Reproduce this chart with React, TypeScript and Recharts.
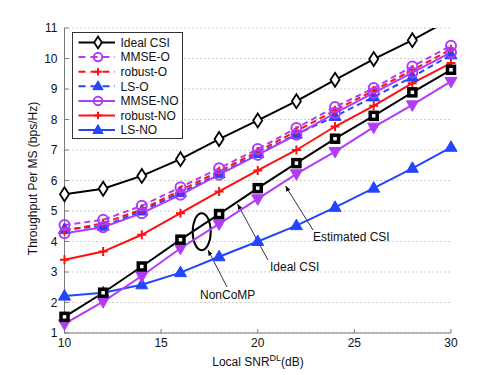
import {
  CartesianGrid,
  Customized,
  Legend,
  Line,
  LineChart,
  XAxis,
  YAxis,
} from "recharts";

const SNR = [10, 12, 14, 16, 18, 20, 22, 24, 26, 28, 30];
const IDEAL_CSI = [5.55, 5.73, 6.15, 6.7, 7.36, 7.97, 8.6, 9.3, 9.98, 10.6, 11.3];
const MMSE_O = [4.54, 4.71, 5.17, 5.78, 6.4, 7.03, 7.72, 8.41, 9.03, 9.74, 10.42];
const ROBUST_O = [4.35, 4.6, 5.05, 5.68, 6.3, 6.95, 7.62, 8.3, 8.95, 9.62, 10.3];
const LS_O = [4.4, 4.5, 5.0, 5.6, 6.22, 6.88, 7.52, 8.1, 8.74, 9.39, 10.12];
const MMSE_NO = [4.27, 4.47, 4.93, 5.53, 6.19, 6.84, 7.5, 8.21, 8.87, 9.54, 10.2];
const ROBUST_NO = [3.4, 3.67, 4.22, 4.93, 5.64, 6.33, 7.0, 7.77, 8.45, 9.19, 9.85];
const LS_NO = [2.21, 2.32, 2.58, 2.98, 3.5, 4.0, 4.52, 5.12, 5.75, 6.4, 7.09];
const NONCOMP_IDEAL = [1.53, 2.32, 3.18, 4.06, 4.9, 5.75, 6.57, 7.37, 8.12, 8.89, 9.63];
const NONCOMP_EST = [1.3, 2.03, 2.87, 3.78, 4.58, 5.4, 6.22, 6.95, 7.75, 8.48, 9.25];

const X_TICKS = [10, 15, 20, 25, 30];
const Y_TICKS = [1, 2, 3, 4, 5, 6, 7, 8, 9, 10, 11];

const PURPLE = "#b23cf5";
const RED = "#ff1010";
const BLUE = "#2246ff";
const AXIS = "#7a7a7a";
const FONT = "'Liberation Sans', Arial, sans-serif";

type Shape = "diamond" | "circle" | "plus" | "triUp" | "triDown" | "square";

type SeriesDef = {
  key: string;
  name: string;
  color: string;
  dash?: string;
  shape: Shape;
};

const SERIES: SeriesDef[] = [
  { key: "lsNO", name: "LS-NO", color: BLUE, shape: "triUp" },
  { key: "robustNO", name: "robust-NO", color: RED, shape: "plus" },
  { key: "lsO", name: "LS-O", color: BLUE, dash: "6 4", shape: "triUp" },
  { key: "robustO", name: "robust-O", color: RED, dash: "6 4", shape: "plus" },
  { key: "mmseNO", name: "MMSE-NO", color: PURPLE, shape: "circle" },
  { key: "mmseO", name: "MMSE-O", color: PURPLE, dash: "6 4", shape: "circle" },
  { key: "estNC", name: "Estimated CSI NonCoMP", color: PURPLE, shape: "triDown" },
  { key: "idealNC", name: "Ideal CSI NonCoMP", color: "#000", shape: "square" },
  { key: "ideal", name: "Ideal CSI", color: "#000", shape: "diamond" },
];

const LEGEND_ORDER = ["ideal", "mmseO", "robustO", "lsO", "mmseNO", "robustNO", "lsNO"];

const data = SNR.map((snr, i) => ({
  snr,
  ideal: IDEAL_CSI[i],
  mmseO: MMSE_O[i],
  robustO: ROBUST_O[i],
  lsO: LS_O[i],
  mmseNO: MMSE_NO[i],
  robustNO: ROBUST_NO[i],
  lsNO: LS_NO[i],
  idealNC: NONCOMP_IDEAL[i],
  estNC: NONCOMP_EST[i],
}));

function Marker({ shape, cx, cy, color, k = 1 }: { shape: Shape; cx: number; cy: number; color: string; k?: number }) {
  switch (shape) {
    case "diamond":
      return (
        <path
          d={`M${cx},${cy - 7 * k}L${cx + 4.5 * k},${cy}L${cx},${cy + 7 * k}L${cx - 4.5 * k},${cy}Z`}
          fill="#fff"
          stroke={color}
          strokeWidth={1.8}
        />
      );
    case "circle":
      return <circle cx={cx} cy={cy} r={5 * k} fill="none" stroke={color} strokeWidth={2} />;
    case "plus":
      return (
        <path
          d={`M${cx - 4.5 * k},${cy}H${cx + 4.5 * k}M${cx},${cy - 4.5 * k}V${cy + 4.5 * k}`}
          stroke={color}
          strokeWidth={2}
        />
      );
    case "triUp":
      return (
        <path
          d={`M${cx},${cy - 6.5 * k}L${cx + 6 * k},${cy + 4 * k}L${cx - 6 * k},${cy + 4 * k}Z`}
          fill={color}
          stroke={color}
          strokeWidth={1}
        />
      );
    case "triDown":
      return (
        <path
          d={`M${cx},${cy + 6.5 * k}L${cx + 6 * k},${cy - 4 * k}L${cx - 6 * k},${cy - 4 * k}Z`}
          fill={color}
          stroke={color}
          strokeWidth={1}
        />
      );
    case "square":
      return (
        <rect x={cx - 3.5} y={cy - 3.5} width={7} height={7} fill="#fff" stroke={color} strokeWidth={3.5} />
      );
  }
}

const makeDot = (s: SeriesDef) => (props: any) => {
  const { cx, cy, index } = props;
  if (cx == null || cy == null) return <g key={index} />;
  return (
    <g key={index}>
      <Marker shape={s.shape} cx={cx} cy={cy} color={s.color} />
    </g>
  );
};

function LegendBox() {
  const rows = LEGEND_ORDER.map((k) => SERIES.find((s) => s.key === k)!);
  return (
    <svg width={111} height={107} style={{ display: "block" }}>
      <rect x={0.5} y={0.5} width={110} height={106} fill="#fff" stroke="#333" strokeWidth={1} />
      {rows.map((s, i) => {
        const y = 10.5 + i * 14.6;
        return (
          <g key={s.key}>
            <line x1={6.5} x2={43} y1={y} y2={y} stroke={s.color} strokeWidth={2} strokeDasharray={s.dash ? "7 5" : undefined} />
            <Marker shape={s.shape} cx={26} cy={y} color={s.color} k={0.85} />
            <text x={48.5} y={y + 4.3} fontSize={12} fontFamily={FONT} fill="#111">
              {s.name}
            </text>
          </g>
        );
      })}
    </svg>
  );
}

function Annotations() {
  return (
    <g fontFamily={FONT} fontSize={12} fill="#111">
      <defs>
        <marker id="arr" viewBox="0 0 10 10" refX="10" refY="5" markerWidth="7" markerHeight="7" orient="auto">
          <path d="M0,1L10,5L0,9Z" fill="#000" />
        </marker>
      </defs>
      <ellipse cx={201.7} cy={231.7} rx={9} ry={18.5} fill="none" stroke="#000" strokeWidth={2} />
      <line x1={227} y1={287} x2={208} y2={250} stroke="#000" strokeWidth={0.8} markerEnd="url(#arr)" />
      <text x={200} y={299}>NonCoMP</text>
      <line x1={268} y1={260} x2={237.5} y2={204} stroke="#000" strokeWidth={0.8} markerEnd="url(#arr)" />
      <text x={270} y={271}>Ideal CSI</text>
      <line x1={313} y1={230} x2={285.5} y2={186} stroke="#000" strokeWidth={0.8} markerEnd="url(#arr)" />
      <text x={313} y={241}>Estimated CSI</text>
    </g>
  );
}

const tickStyle = { fontSize: 12, fontFamily: FONT, fill: "#111" };

export default function App() {
  return (
    <div style={{ position: "absolute", left: 0, top: 0, width: 498, height: 375, background: "#fff" }}>
      <LineChart
        width={498}
        height={375}
        data={data}
        margin={{ top: 28, right: 47, bottom: 12, left: 8 }}
      >
        <CartesianGrid vertical={false} horizontal stroke="#9a9a9a" strokeDasharray="1 3" />
        <XAxis
          dataKey="snr"
          type="number"
          domain={[10, 30]}
          ticks={X_TICKS}
          height={30}
          stroke={AXIS}
          tick={tickStyle}
          tickSize={-4}
          tickMargin={9}
          label={{
            content: () => (
              <text x={258} y={366} textAnchor="middle" fontSize={12} fontFamily={FONT} fill="#111">
                Local SNR
                <tspan fontSize={9} dy={-5}>DL</tspan>
                <tspan dy={5}>(dB)</tspan>
              </text>
            ),
          }}
        />
        <XAxis
          xAxisId="top"
          dataKey="snr"
          type="number"
          orientation="top"
          domain={[10, 30]}
          ticks={X_TICKS}
          height={0}
          stroke={AXIS}
          tick={false}
          tickSize={-4}
        />
        <YAxis
          type="number"
          domain={[1, 11]}
          ticks={Y_TICKS}
          allowDataOverflow
          width={56.5}
          stroke={AXIS}
          tick={tickStyle}
          tickSize={-4}
          tickMargin={11}
          label={{
            value: "Throughput Per MS (bps/Hz)",
            angle: -90,
            position: "insideLeft",
            offset: 0,
            style: { fontSize: 12, fontFamily: FONT, fill: "#111", textAnchor: "middle" },
            dx: 25,
            dy: -2,
          }}
        />
        <YAxis
          yAxisId="right"
          type="number"
          orientation="right"
          domain={[1, 11]}
          ticks={Y_TICKS}
          width={0}
          stroke={AXIS}
          tick={false}
          tickSize={-4}
        />
        <Legend
          layout="vertical"
          align="center"
          verticalAlign="middle"
          wrapperStyle={{ position: "absolute", left: 72, top: 32, width: 111, height: 107 }}
          content={() => <LegendBox />}
        />
        {SERIES.map((s) => (
          <Line
            key={s.key}
            dataKey={s.key}
            name={s.name}
            stroke={s.color}
            strokeWidth={2}
            strokeDasharray={s.dash}
            dot={makeDot(s)}
            activeDot={false}
            isAnimationActive={false}
            legendType="none"
          />
        ))}
        <Customized component={Annotations} />
      </LineChart>
    </div>
  );
}
